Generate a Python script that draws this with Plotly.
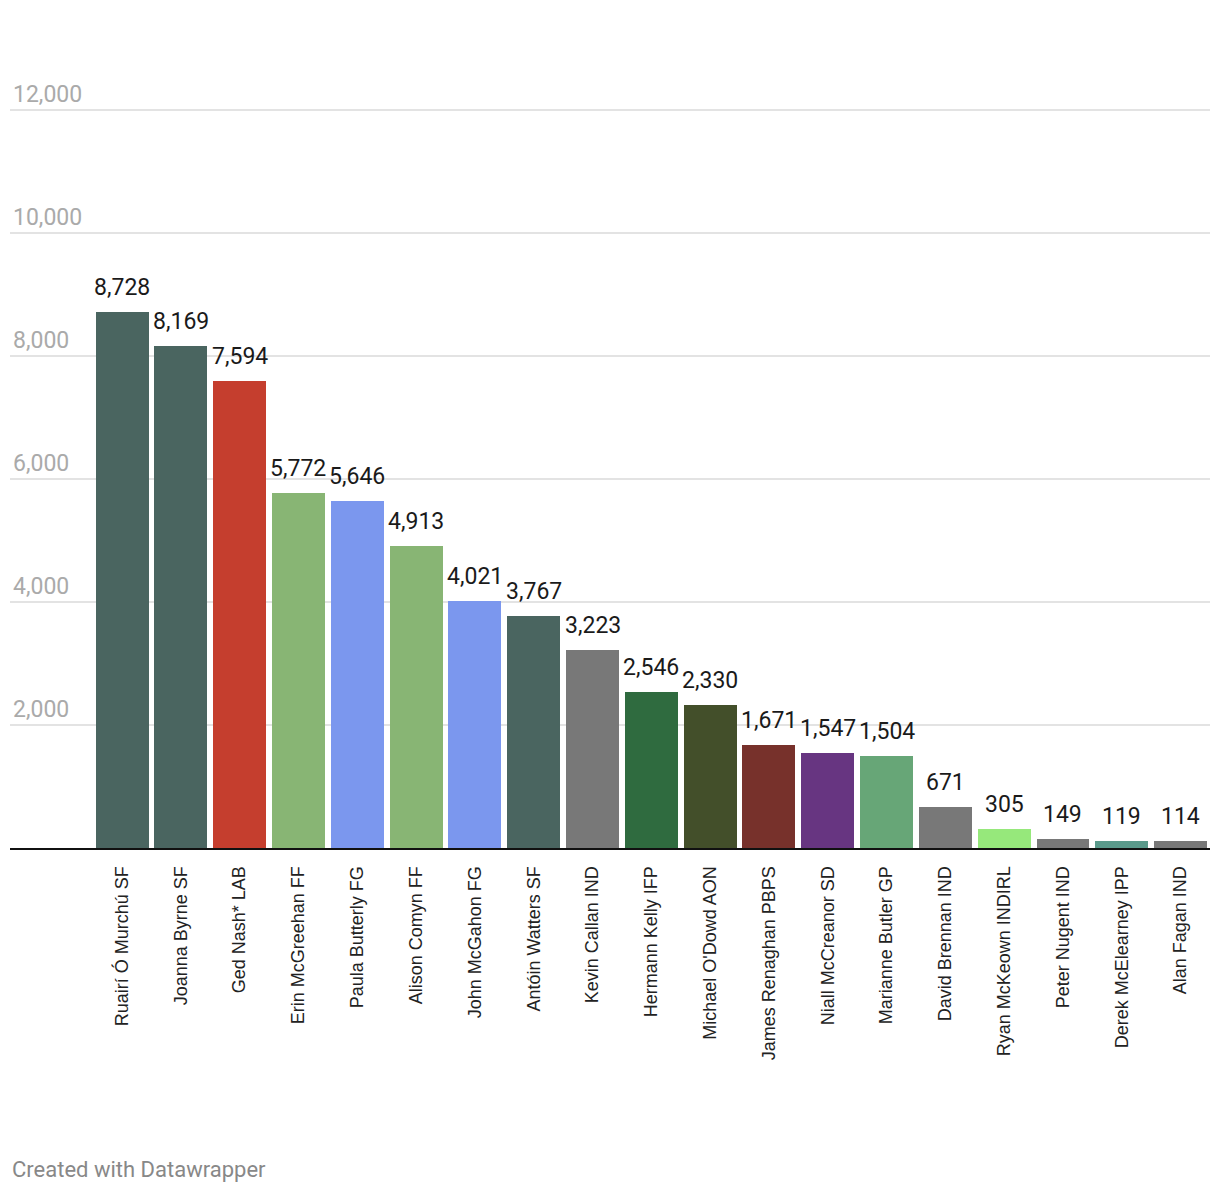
import plotly.graph_objects as go

candidates = ["Ruairí Ó Murchú SF", "Joanna Byrne SF", "Ged Nash* LAB", "Erin McGreehan FF",
              "Paula Butterly FG", "Alison Comyn FF", "John McGahon FG", "Antóin Watters SF",
              "Kevin Callan IND", "Hermann Kelly IFP", "Michael O'Dowd AON", "James Renaghan PBPS",
              "Niall McCreanor SD", "Marianne Butler GP", "David Brennan IND", "Ryan McKeown INDIRL",
              "Peter Nugent IND", "Derek McElearney IPP", "Alan Fagan IND"]
votes = [8728, 8169, 7594, 5772, 5646, 4913, 4021, 3767, 3223, 2546, 2330, 1671, 1547, 1504,
         671, 305, 149, 119, 114]
colors = ["#4a6560", "#4a6560", "#c53e2e", "#88b574", "#7b97ee", "#88b574", "#7b97ee", "#4a6560",
          "#787878", "#2f6b3f", "#434f2a", "#77312b", "#673581", "#67a677", "#787878", "#96e87b",
          "#787878", "#5a9a8b", "#787878"]
y_ticks = [0, 2000, 4000, 6000, 8000, 10000, 12000]

idx = list(range(len(candidates)))

# page body has an 8px margin, so offsets are compensated below
PX_PER_UNIT = 738 / 12000
Y_TOP = 13000
plot_h = 738 + (Y_TOP - 12000) * PX_PER_UNIT
top_margin = 110 - 8 - (Y_TOP - 12000) * PX_PER_UNIT
bottom_margin = 1196 - top_margin - plot_h

fig = go.Figure()
fig.add_trace(go.Bar(
    x=idx, y=votes, marker=dict(color=colors, line=dict(width=0)),
    width=0.9, hoverinfo="skip", cliponaxis=False,
))

for i, v in zip(idx, votes):
    fig.add_annotation(x=i, y=v, text=f"{v:,}", showarrow=False, yanchor="bottom",
                       yshift=9, font=dict(family="Roboto", size=23, color="#1a1a1a"))

fig.update_layout(
    width=1220, height=1196,
    margin=dict(l=2, r=18, t=top_margin, b=bottom_margin),
    plot_bgcolor="white", paper_bgcolor="white",
    showlegend=False, bargap=0,
    xaxis=dict(
        range=[-1.905, 18.5], tickmode="array", tickvals=idx, ticktext=candidates,
        tickangle=-90, tickfont=dict(family="Liberation Sans, Arial", size=18, color="#222"),
        ticks="outside", ticklen=9, tickcolor="rgba(0,0,0,0)",
        showline=True, linecolor="#111", linewidth=2, showgrid=False, zeroline=False,
        fixedrange=True,
    ),
    yaxis=dict(
        range=[0, Y_TOP], tickmode="array", tickvals=y_ticks,
        ticktext=["" if t == 0 else f"{t:,}" for t in y_ticks],
        ticklabelposition="inside top",
        tickfont=dict(family="Roboto", size=23, color="#aaaaaa"),
        showgrid=True, gridcolor="#e3e3e3", gridwidth=1.5, zeroline=False, showline=False,
        ticks="", fixedrange=True,
    ),
)

fig.add_annotation(x=0, xref="paper", xanchor="left", xshift=0,
                   y=-(1170 - 848) / plot_h, yref="paper", yanchor="middle",
                   text="Created with Datawrapper", showarrow=False,
                   font=dict(family="Roboto", size=22, color="#888888"))

fig.write_html("out.html")
